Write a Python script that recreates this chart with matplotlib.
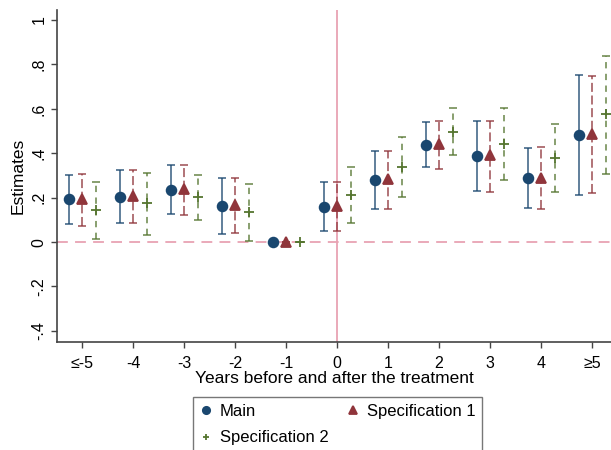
import numpy as np
import matplotlib.pyplot as plt
from matplotlib import rcParams

rcParams['font.family'] = ['Liberation Sans', 'DejaVu Sans']

# event-time categories
labels = ['≤-5', '-4', '-3', '-2', '-1', '0', '1', '2', '3', '4', '≥5']

# point estimates and 95% CI bounds
main_est = [0.192, 0.204, 0.236, 0.164, 0.0, 0.159, 0.279, 0.438, 0.386, 0.287, 0.483]
main_lo = [0.081, 0.087, 0.125, 0.037, 0.0, 0.051, 0.149, 0.336, 0.230, 0.152, 0.213]
main_hi = [0.300, 0.324, 0.347, 0.288, 0.0, 0.269, 0.410, 0.539, 0.544, 0.423, 0.754]

spec1_est = [0.195, 0.207, 0.240, 0.168, 0.0, 0.164, 0.284, 0.441, 0.390, 0.290, 0.488]
spec1_lo = [0.073, 0.084, 0.122, 0.039, 0.0, 0.051, 0.147, 0.330, 0.225, 0.147, 0.219]
spec1_hi = [0.308, 0.326, 0.348, 0.287, 0.0, 0.269, 0.411, 0.545, 0.547, 0.429, 0.748]

spec2_est = [0.143, 0.174, 0.201, 0.134, 0.0, 0.212, 0.339, 0.497, 0.443, 0.378, 0.575]
spec2_lo = [0.015, 0.030, 0.098, 0.006, 0.0, 0.087, 0.204, 0.392, 0.281, 0.227, 0.308]
spec2_hi = [0.270, 0.309, 0.303, 0.260, 0.0, 0.338, 0.473, 0.602, 0.605, 0.530, 0.839]

NAVY = '#1a476f'
MAROON = '#90353b'
GREEN = '#55752f'
PINK = '#e8a3b3'

x = np.arange(len(labels))

fig = plt.figure(figsize=(6.11, 4.5), dpi=100)
ax = fig.add_axes([57/611, 1 - 342/450, 1 - 57/611, 332/450])

# reference lines
ax.axhline(0, color=PINK, lw=1.3, ls=(0, (6, 4)), zorder=1)
ax.axvline(5, color=PINK, lw=1.3, zorder=1)


def draw(est, lo, hi, offset, color, marker, ms, dash, label):
    est = np.array(est)
    yerr = [est - np.array(lo), np.array(hi) - est]
    eb = ax.errorbar(x + offset, est, yerr=yerr, fmt='none', ecolor=color,
                     elinewidth=1.3, capsize=3, capthick=1.3, alpha=0.75, zorder=2)
    eb[2][0].set_linestyle(dash)
    h, = ax.plot(x + offset, est, ls='none', marker=marker, ms=ms,
                 color=color, mec=color, mew=1.3, zorder=3, label=label)
    return h


h_main = draw(main_est, main_lo, main_hi, -0.25, NAVY, 'o', 7, '-', 'Main')
h_s1 = draw(spec1_est, spec1_lo, spec1_hi, 0.0, MAROON, '^', 7.5, (0, (5, 2)), 'Specification 1')
h_s2 = draw(spec2_est, spec2_lo, spec2_hi, 0.27, GREEN, '+', 6.5, (0, (3.5, 3)), 'Specification 2')

ax.set_xlim(-0.49, 10.37)
ax.set_ylim(-0.45, 1.045)
ax.set_xticks(x)
ax.set_xticklabels(labels, fontsize=11.5)
ax.set_yticks([-0.4, -0.2, 0, 0.2, 0.4, 0.6, 0.8, 1])
ax.set_yticklabels(['-.4', '-.2', '0', '.2', '.4', '.6', '.8', '1'],
                   rotation=90, va='center', fontsize=11.5)
ax.tick_params(direction='out', length=4, width=1, color='#444444')
ax.tick_params(axis='x', pad=6)

for side in ['top', 'right']:
    ax.spines[side].set_visible(False)
for side in ['left', 'bottom']:
    ax.spines[side].set_color('#444444')
    ax.spines[side].set_linewidth(1.2)

ax.set_ylabel('Estimates', fontsize=12.5, labelpad=4)
ax.set_xlabel('Years before and after the treatment', fontsize=12.5, labelpad=0)

leg = fig.legend([h_main, h_s2, h_s1], ['Main', 'Specification 2', 'Specification 1'],
                 ncol=2, loc='upper left', bbox_to_anchor=(193/611, 1 - 397/450),
                 fontsize=12, frameon=True, fancybox=False, edgecolor='#555555',
                 handlelength=0.7, handletextpad=0.5, columnspacing=1.1,
                 markerscale=0.75, borderpad=0.4, labelspacing=0.7,
                 borderaxespad=0)
leg.get_frame().set_linewidth(1.0)

fig.savefig('out.png', dpi=100)
